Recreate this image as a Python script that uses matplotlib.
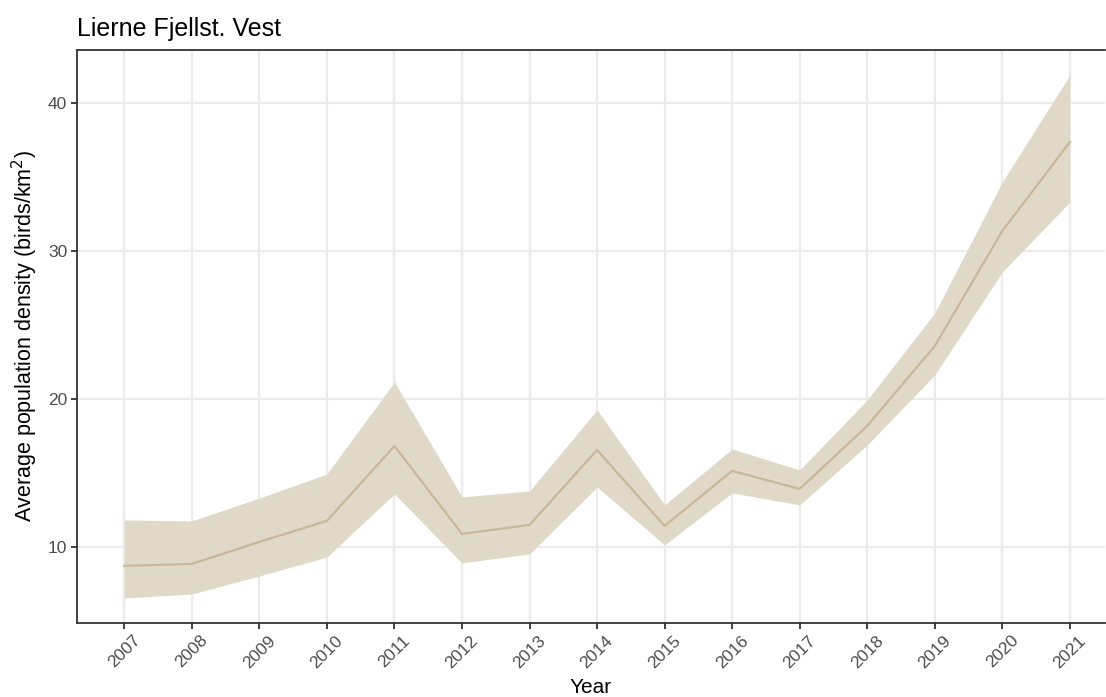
import matplotlib
matplotlib.use("Agg")
import matplotlib.pyplot as plt

plt.rcParams['font.family'] = ['Liberation Sans', 'DejaVu Sans']

years = [2007, 2008, 2009, 2010, 2011, 2012, 2013, 2014, 2015, 2016, 2017, 2018, 2019, 2020, 2021]
density = [8.72, 8.85, 10.34, 11.76, 16.82, 10.88, 11.49, 16.55, 11.42, 15.14, 13.92, 18.18, 23.58, 31.35, 37.36]
upper = [11.82, 11.76, 13.3, 14.93, 21.15, 13.38, 13.78, 19.26, 12.84, 16.62, 15.2, 19.93, 25.81, 34.66, 41.89]
lower = [6.55, 6.82, 8.04, 9.32, 13.58, 8.92, 9.53, 14.05, 10.14, 13.65, 12.84, 16.89, 21.62, 28.58, 33.31]
y_ticks = [10, 20, 30, 40]

fig = plt.figure(figsize=(11.06, 6.97), dpi=100)
ax = fig.add_axes([77/1106, 1 - 623/697, (1105 - 77)/1106, (623 - 50)/697])

ax.fill_between(years, lower, upper, color='#e1d9c8', lw=0, zorder=2)
ax.plot(years, density, color='#c8b898', lw=1.6, zorder=3)

ax.set_xlim(2006.30, 2021.52)
ax.set_ylim(4.86, 43.58)
ax.set_xticks(years)
ax.set_xticklabels([str(y) for y in years], rotation=45, ha='center', va='top')
ax.set_yticks(y_ticks)
ax.grid(True, color='#ebebeb', lw=1.6, zorder=0)
ax.set_axisbelow(True)

for s in ['left', 'bottom', 'top']:
    ax.spines[s].set_color('#333333')
    ax.spines[s].set_linewidth(1.3)
ax.spines['right'].set_visible(False)

ax.tick_params(axis='both', length=4, width=1.3, color='#333333',
               labelcolor='#4d4d4d', labelsize=12.5, pad=3)

ax.set_xlabel('Year', fontsize=15, color='black', labelpad=5)
ax.set_ylabel('Average population density (birds/km$^2$)', fontsize=15.5, color='black', labelpad=6)
ax.set_title('Lierne Fjellst. Vest', loc='left', fontsize=18, pad=10)

fig.savefig('out.png', dpi=100)
